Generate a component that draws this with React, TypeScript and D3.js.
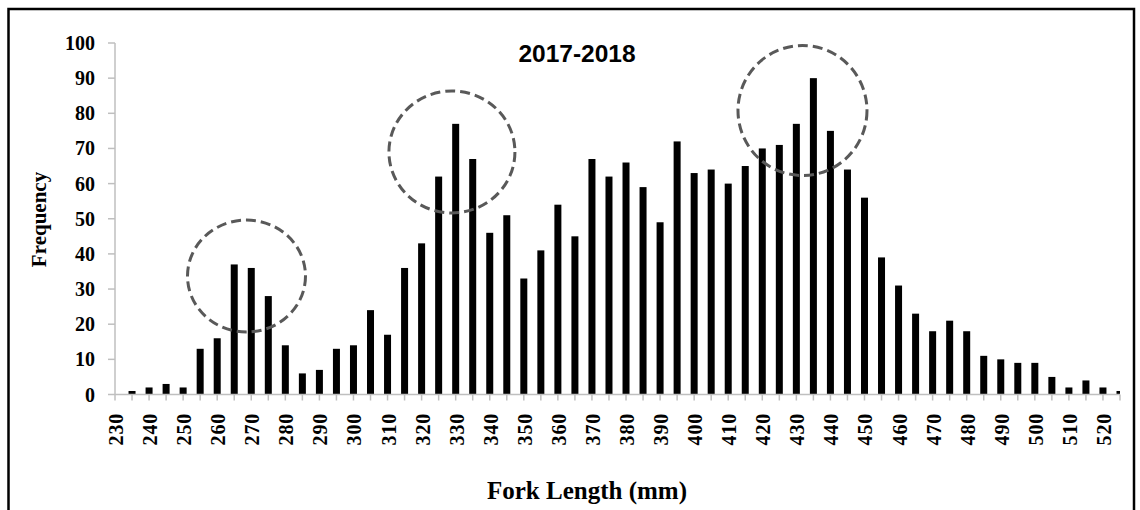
import React from "react";
import * as d3 from "d3";

const categories: number[] = [
  230, 235, 240, 245, 250, 255, 260, 265, 270, 275, 280, 285, 290, 295, 300,
  305, 310, 315, 320, 325, 330, 335, 340, 345, 350, 355, 360, 365, 370, 375,
  380, 385, 390, 395, 400, 405, 410, 415, 420, 425, 430, 435, 440, 445, 450,
  455, 460, 465, 470, 475, 480, 485, 490, 495, 500, 505, 510, 515, 520, 525,
];
const frequency: number[] = [
  0, 1, 2, 3, 2, 13, 16, 37, 36, 28, 14, 6, 7, 13, 14,
  24, 17, 36, 43, 62, 77, 67, 46, 51, 33, 41, 54, 45, 67, 62,
  66, 59, 49, 72, 63, 64, 60, 65, 70, 71, 77, 90, 75, 64, 56,
  39, 31, 23, 18, 21, 18, 11, 10, 9, 9, 5, 2, 4, 2, 1,
];
const xTickLabels: number[] = [
  230, 240, 250, 260, 270, 280, 290, 300, 310, 320, 330, 340, 350, 360, 370,
  380, 390, 400, 410, 420, 430, 440, 450, 460, 470, 480, 490, 500, 510, 520,
];
const yTicks: number[] = [0, 10, 20, 30, 40, 50, 60, 70, 80, 90, 100];
// highlighted peaks (center length, center frequency)
const peakCats: number[] = [268.6, 328.9, 431.8];
const peakVals: number[] = [33.7, 69, 80.8];
const peakRx: number[] = [59, 63, 64.5];
const peakRy: number[] = [56, 61, 65];

const title = "2017-2018";
const xTitle = "Fork Length (mm)";
const yTitle = "Frequency";

export default function App() {
  const W = 1140, H = 510;
  const x0 = 115, x1 = 1120, yBottom = 394.5, yTop = 43;
  const x = d3.scalePoint<number>().domain(categories).range([x0, x1]);
  const xLin = d3.scaleLinear().domain([230, 525]).range([x0, x1]);
  const y = d3.scaleLinear().domain([0, 100]).range([yBottom, yTop]);
  const barW = 7;
  const axisColor = "#bfbfbf";
  const serif = "'Liberation Serif', 'Times New Roman', serif";

  return (
    <svg width={W} height={H} style={{ position: "absolute", left: 0, top: 0, background: "#fff" }}
      xmlns="http://www.w3.org/2000/svg">
      <defs>
        <clipPath id="plotClip">
          <rect x={x0} y={0} width={x1 - x0} height={yBottom} />
        </clipPath>
      </defs>
      <rect x={0} y={0} width={W} height={H} fill="#fff" />
      <rect x={8.5} y={9} width={1125.5} height={H + 20} fill="none" stroke="#000" strokeWidth={2.5} />

      {/* y axis */}
      <line x1={x0} x2={x0} y1={y(100)} y2={yBottom} stroke={axisColor} strokeWidth={1.5} />
      {yTicks.map((t) => (
        <g key={"y" + t}>
          <line x1={x0 - 7} x2={x0} y1={y(t)} y2={y(t)} stroke={axisColor} strokeWidth={1.5} />
          <text x={95} y={y(t)} dy="0.35em" textAnchor="end" fontFamily={serif} fontWeight="bold" fontSize={20} fill="#000">
            {t}
          </text>
        </g>
      ))}

      {/* bars */}
      <g clipPath="url(#plotClip)">
        {categories.map((c, i) => (
          <rect key={"b" + c} x={(x(c) as number) - barW / 2} y={y(frequency[i])} width={barW}
            height={yBottom - y(frequency[i])} fill="#000" />
        ))}
      </g>

      {/* x axis */}
      <line x1={x0} x2={x1} y1={yBottom} y2={yBottom} stroke={axisColor} strokeWidth={1.5} />
      {categories.map((c) => (
        <line key={"xt" + c} x1={x(c) as number} x2={x(c) as number} y1={yBottom} y2={yBottom + 6}
          stroke={axisColor} strokeWidth={1.5} />
      ))}
      {xTickLabels.map((c) => (
        <text key={"xl" + c} transform={`translate(${(x(c) as number) + 1},413) rotate(-90)`}
          textAnchor="end" dominantBaseline="central" fontFamily={serif} fontWeight="bold" fontSize={20}
          letterSpacing={0.8} fill="#000">
          {c}
        </text>
      ))}

      {/* highlight circles */}
      {peakCats.map((c, i) => (
        <ellipse key={"e" + i} cx={xLin(c)} cy={y(peakVals[i])} rx={peakRx[i]} ry={peakRy[i]}
          fill="none" stroke="#595959" strokeWidth={3} strokeDasharray="10 5" />
      ))}

      {/* titles */}
      <text x={577} y={62} textAnchor="middle" fontFamily="'Liberation Sans', Arial, sans-serif" fontWeight="bold" fontSize={24.5} fill="#000">
        {title}
      </text>
      <text x={587} y={499} textAnchor="middle" fontFamily={serif} fontWeight="bold" fontSize={25} fill="#000">
        {xTitle}
      </text>
      <text transform="translate(46,219.5) rotate(-90)" textAnchor="middle" fontFamily={serif} fontWeight="bold" fontSize={21} fill="#000">
        {yTitle}
      </text>
    </svg>
  );
}
